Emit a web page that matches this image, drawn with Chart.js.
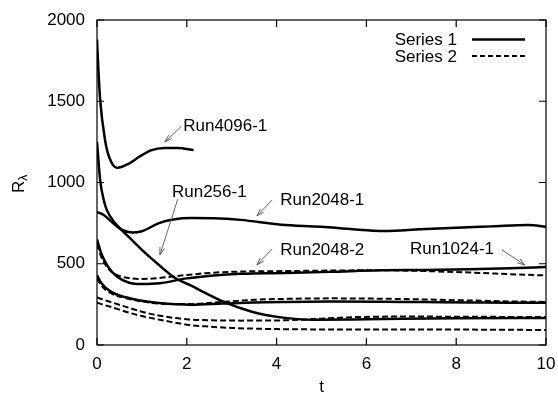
<!DOCTYPE html>
<html>
<head>
<meta charset="utf-8">
<script src="https://cdn.jsdelivr.net/npm/chart.js@4.4.1/dist/chart.umd.min.js"></script>
<style>
  html, body { margin: 0; padding: 0; background: #fff; }
</style>
</head>
<body>
<canvas id="chart" width="558" height="399"></canvas>
<script>
// values (t, R_lambda)
const tRun4096 = [0, 0.03, 0.07, 0.18, 0.27, 0.45, 0.7, 0.95, 1.2, 1.5, 1.8, 2.15];
const rRun4096 = [1880, 1700, 1510, 1260, 1157, 1090, 1115, 1160, 1198, 1213, 1212, 1200];

const tRun256 = [0, 0.07, 0.15, 0.22, 0.4, 0.62, 1.0, 1.38, 1.74, 2.1, 2.4, 2.85, 3.45, 4.1, 4.8, 6, 8, 10];
const rRun256 = [1250, 1015, 892, 830, 750, 689, 585, 492, 412, 365, 322, 262, 205, 170, 155, 158, 165, 166];

const tRun2048a = [0, 0.15, 0.33, 0.56, 0.78, 1.0, 1.38, 1.7, 2.1, 2.6, 3.2, 4.1, 5.0, 5.7, 6.4, 7.2, 8.0, 8.8, 9.6, 10];
const rRun2048a = [818, 800, 757, 708, 692, 700, 750, 772, 781, 780, 770, 740, 728, 712, 702, 712, 722, 730, 738, 728];

const tRun2048b = [0, 0.1, 0.25, 0.45, 0.7, 1.0, 1.4, 2.0, 2.6, 3.2, 4.2, 5.2, 6.3, 7.3, 8.3, 9.2, 10];
const rRun2048bS1 = [650, 560, 480, 420, 385, 375, 380, 410, 428, 438, 443, 450, 460, 462, 466, 472, 480];
const rRun2048bS2 = [620, 540, 470, 430, 412, 406, 413, 431, 445, 452, 455, 458, 460, 455, 446, 436, 428];

const tRun1024 = [0, 0.1, 0.3, 0.62, 1.0, 1.38, 2.1, 2.8, 3.5, 4.2, 5.2, 6.3, 7.3, 8.3, 9.2, 10];
const rRun1024S1 = [430, 380, 330, 295, 272, 258, 248, 255, 262, 265, 267, 266, 264, 262, 260, 260];
const rRun1024S2 = [410, 365, 320, 290, 268, 255, 252, 265, 278, 284, 287, 285, 280, 274, 268, 265];

const tLowA = [0, 0.3, 0.7, 1.0, 1.4, 2.0, 2.5, 3.2, 4.2, 5.0, 5.8, 7, 8, 9, 10];
const rLowA = [292, 265, 230, 205, 180, 158, 152, 150, 152, 162, 172, 175, 174, 173, 172];

const tLowB = [0, 0.3, 0.7, 1.0, 1.5, 2.0, 2.5, 3.0, 4.0, 5, 6, 7, 8, 9, 10];
const rLowB = [260, 235, 200, 178, 150, 125, 113, 105, 98, 96, 96, 96, 95, 94, 92];

const xTicks = [0, 2, 4, 6, 8, 10];
const yTicks = [0, 500, 1000, 1500, 2000];
const seriesNames = ['Series 1', 'Series 2'];

const FONT = "'Liberation Sans', Arial, Helvetica, sans-serif";

function pts(ts, rs) {
  return ts.map((t, i) => ({ x: t, y: rs[i] }));
}

function line(label, ts, rs, series) {
  const dashed = series === 1;
  return {
    label: label,
    data: pts(ts, rs),
    series: series,
    borderColor: '#000',
    borderWidth: dashed ? 2 : 2.5,
    borderDash: dashed ? [6, 3] : [],
    pointRadius: 0,
    fill: false,
    cubicInterpolationMode: 'monotone'
  };
}

// labels and arrows, in data coordinates
const notes = [
  { text: 'Run4096-1', at: [1.92, 1354], from: [1.88, 1346], to: [1.51, 1249] },
  { text: 'Run256-1', at: [1.67, 948], from: [1.80, 898], to: [1.40, 554] },
  { text: 'Run2048-1', at: [4.08, 898], from: [3.90, 892], to: [3.56, 794] },
  { text: 'Run2048-2', at: [4.08, 591], from: [3.90, 591], to: [3.56, 492] },
  { text: 'Run1024-1', at: [6.97, 597], from: [9.02, 585], to: [9.53, 492] }
];

const decor = {
  id: 'decor',
  afterDatasetsDraw(chart) {
    const { ctx, chartArea: a, scales: { x, y } } = chart;
    ctx.save();

    // frame + inward ticks on all four sides
    ctx.strokeStyle = '#000';
    ctx.lineWidth = 1.2;
    ctx.setLineDash([]);
    ctx.strokeRect(a.left, a.top, a.right - a.left, a.bottom - a.top);
    ctx.beginPath();
    xTicks.forEach(v => {
      const px = x.getPixelForValue(v);
      ctx.moveTo(px, a.bottom); ctx.lineTo(px, a.bottom - 7);
      ctx.moveTo(px, a.top); ctx.lineTo(px, a.top + 7);
    });
    yTicks.forEach(v => {
      const py = y.getPixelForValue(v);
      ctx.moveTo(a.left, py); ctx.lineTo(a.left + 7, py);
      ctx.moveTo(a.right, py); ctx.lineTo(a.right - 7, py);
    });
    ctx.stroke();

    // legend
    ctx.font = '17px ' + FONT;
    ctx.fillStyle = '#000';
    ctx.textAlign = 'right';
    ctx.textBaseline = 'middle';
    seriesNames.forEach((name, i) => {
      const ly = a.top + 19.5 + i * 16.5;
      ctx.fillText(name, a.right - 89, ly + 1);
      ctx.beginPath();
      ctx.lineWidth = i === 0 ? 2.5 : 2;
      ctx.setLineDash(i === 0 ? [] : [5, 3]);
      ctx.moveTo(a.right - 74, ly);
      ctx.lineTo(a.right - 21, ly);
      ctx.stroke();
    });
    ctx.setLineDash([]);

    // annotations
    ctx.textAlign = 'left';
    notes.forEach(n => {
      ctx.fillStyle = '#000';
      ctx.fillText(n.text, x.getPixelForValue(n.at[0]), y.getPixelForValue(n.at[1]) + 1);
      const x0 = x.getPixelForValue(n.from[0]), y0 = y.getPixelForValue(n.from[1]);
      const x1 = x.getPixelForValue(n.to[0]), y1 = y.getPixelForValue(n.to[1]);
      const ang = Math.atan2(y1 - y0, x1 - x0);
      ctx.strokeStyle = '#666';
      ctx.lineWidth = 1;
      ctx.beginPath();
      ctx.moveTo(x0, y0); ctx.lineTo(x1, y1);
      ctx.moveTo(x1 - 8 * Math.cos(ang - 0.3), y1 - 8 * Math.sin(ang - 0.3));
      ctx.lineTo(x1, y1);
      ctx.lineTo(x1 - 8 * Math.cos(ang + 0.3), y1 - 8 * Math.sin(ang + 0.3));
      ctx.stroke();
    });

    // y axis title R_lambda
    ctx.fillStyle = '#000';
    ctx.translate(24, 193);
    ctx.rotate(-Math.PI / 2);
    ctx.textBaseline = 'alphabetic';
    ctx.font = '17px ' + FONT;
    ctx.fillText('R', 0, 0);
    const w = ctx.measureText('R').width;
    ctx.font = '12px ' + FONT;
    ctx.fillText('\u03bb', w, 3);
    ctx.restore();
  }
};

new Chart(document.getElementById('chart'), {
  type: 'line',
  data: {
    datasets: [
      line('Run4096-1', tRun4096, rRun4096, 0),
      line('Run256-1', tRun256, rRun256, 0),
      line('Run2048-1', tRun2048a, rRun2048a, 0),
      line('Run2048-2', tRun2048b, rRun2048bS1, 0),
      line('Run2048-2', tRun2048b, rRun2048bS2, 1),
      line('Run1024-1', tRun1024, rRun1024S1, 0),
      line('Run1024-1', tRun1024, rRun1024S2, 1),
      line('Run256-1', tLowA, rLowA, 1),
      line('Run512-1', tLowB, rLowB, 1)
    ]
  },
  options: {
    responsive: false,
    animation: false,
    layout: { padding: { top: 20, right: 12, left: 0, bottom: 0 } },
    plugins: { legend: { display: false }, tooltip: { enabled: false } },
    scales: {
      x: {
        type: 'linear',
        min: 0, max: 10,
        afterBuildTicks: s => { s.ticks = xTicks.map(v => ({ value: v })); },
        afterFit: s => { s.height = 54; s.paddingLeft = 0; s.paddingRight = 0; },
        grid: { display: false, drawTicks: false },
        border: { display: false },
        ticks: { padding: 9, color: '#000', font: { family: FONT, size: 17 }, callback: v => String(v) },
        title: { display: true, text: 't', color: '#000', font: { family: FONT, size: 17 }, padding: { top: 0, bottom: 1 } }
      },
      y: {
        type: 'linear',
        min: 0, max: 2000,
        afterBuildTicks: s => { s.ticks = yTicks.map(v => ({ value: v })); },
        afterFit: s => { s.width = 97; s.paddingTop = 0; s.paddingBottom = 0; },
        grid: { display: false, drawTicks: false },
        border: { display: false },
        ticks: { padding: 12, color: '#000', font: { family: FONT, size: 17 }, callback: v => String(v) }
      }
    }
  },
  plugins: [decor]
});
</script>
</body>
</html>
